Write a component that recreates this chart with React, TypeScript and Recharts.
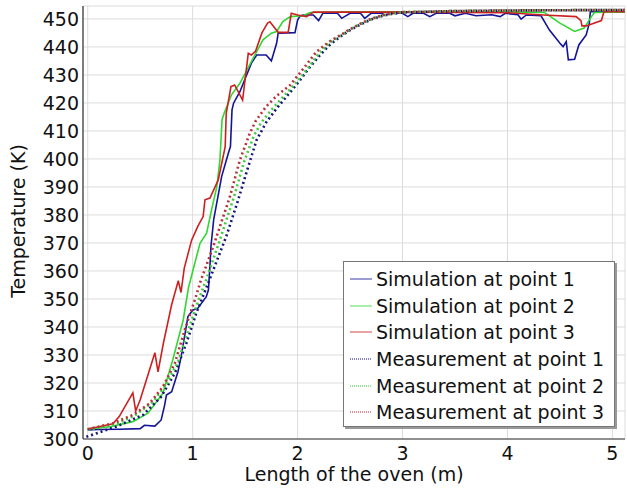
import React from "react"
import { LineChart, Line, XAxis, YAxis, CartesianGrid, Label } from "recharts"

// [length (m), temperature (K)]
const sim1 = [
  [0, 303.2], [0.1, 303.4], [0.3, 303.5], [0.5, 303.7], [0.54, 304.9], [0.64, 304.6],
  [0.7, 306.8], [0.733, 312.1], [0.75, 315.7], [0.8, 316.9], [0.86, 324], [0.89, 329.4],
  [0.955, 343.7], [1.0, 346], [1.05, 346.7], [1.13, 350.8], [1.15, 353.2], [1.165, 362],
  [1.175, 369], [1.2, 378.2], [1.276, 393.7], [1.34, 402], [1.36, 404.4], [1.375, 417.5],
  [1.39, 419.9], [1.45, 424], [1.56, 434.2], [1.61, 437.1], [1.7, 437.1], [1.75, 435],
  [1.8, 441.3], [1.815, 444.9], [1.975, 445.1], [2.0, 449.6], [2.02, 450.8], [2.05, 451.4],
  [2.15, 451.4], [2.2, 449.4], [2.24, 452], [2.38, 452], [2.42, 450.2], [2.5, 452],
  [2.6, 452], [2.64, 450.2], [2.7, 452], [2.8, 452], [2.83, 451.4], [2.9, 452],
  [3.0, 452], [3.05, 450.8], [3.1, 452], [3.2, 452], [3.26, 450.8], [3.32, 452],
  [3.45, 452], [3.5, 451.1], [3.6, 452], [3.7, 451.1], [3.85, 451.5], [3.93, 450.8],
  [3.98, 452], [4.1, 451.5], [4.13, 449.9], [4.18, 451.4], [4.32, 451.1], [4.4, 446],
  [4.5, 441.3], [4.53, 440.1], [4.56, 441.9], [4.58, 435.4], [4.64, 435.6], [4.68, 440.7],
  [4.75, 444.3], [4.78, 448.5], [4.79, 452.6], [4.9, 452.6], [5.0, 452.6], [5.12, 452.6],
]

const sim2 = [
  [0, 303.6], [0.21, 304.4], [0.43, 306.2], [0.574, 309.2], [0.717, 316.3], [0.81, 328.2],
  [0.91, 342.5], [0.96, 354], [1.07, 369.9], [1.133, 373.5], [1.18, 381.8], [1.23, 390],
  [1.26, 399.6], [1.28, 414], [1.3, 416.3], [1.37, 422.9], [1.45, 427], [1.577, 436],
  [1.67, 442.5], [1.75, 444.9], [1.8, 445.5], [1.86, 449], [1.93, 450.8], [2.05, 451.1],
  [2.12, 452.3], [2.5, 452.5], [3.0, 452.5], [3.5, 452.4], [4.0, 452.5], [4.35, 452.3],
  [4.4, 451.1], [4.5, 448.5], [4.64, 445.5], [4.73, 446.7], [4.8, 450.8], [4.83, 452.3],
  [5.12, 452.5],
]

const sim3 = [
  [0, 303.6], [0.24, 305.4], [0.3, 308], [0.43, 316.5], [0.457, 310], [0.5, 314],
  [0.64, 330.8], [0.67, 324], [0.72, 334], [0.8, 348], [0.863, 356.5], [0.889, 352.3],
  [0.92, 361], [0.99, 371], [1.05, 376], [1.1, 379.4], [1.117, 385.4], [1.165, 386],
  [1.244, 392.5], [1.31, 404.4], [1.32, 416.3], [1.365, 425.8], [1.4, 426.4], [1.476, 421],
  [1.53, 437.7], [1.56, 437.1], [1.6, 438.5], [1.66, 445], [1.714, 448.5], [1.736, 449],
  [1.815, 445.2], [1.91, 445.2], [1.94, 452], [2.0, 451.4], [2.086, 450.8], [2.15, 452.4],
  [3.0, 452.4], [4.0, 452.2], [4.34, 451.4], [4.655, 450.8], [4.7, 449.4], [4.71, 447.5],
  [4.75, 447.5], [4.895, 449.4], [4.92, 452.6], [5.12, 452.6],
]

const meas1 = [
  [-0.013, 300.8], [0.27, 304.4], [0.527, 308.6], [0.7, 315.1], [0.83, 323.5], [0.94, 334.2],
  [1.034, 344.9], [1.16, 356.8], [1.32, 372.3], [1.434, 385.4], [1.53, 397.3], [1.61, 406.8],
  [1.7, 413], [1.8, 418], [1.9, 422.5], [2.0, 427], [2.1, 432], [2.2, 436.5],
  [2.3, 440.5], [2.4, 443.5], [2.5, 446], [2.6, 448], [2.7, 449.8], [2.8, 451],
  [2.9, 451.8], [3.0, 452.3], [3.5, 452.8], [4.0, 453], [5.12, 453.2],
]

const meas2 = [
  [0, 303.3], [0.25, 305], [0.45, 308.4], [0.62, 313.2], [0.75, 319.5], [0.86, 327.5],
  [0.95, 338], [1.05, 349], [1.13, 357], [1.25, 370], [1.39, 386], [1.49, 399],
  [1.58, 408], [1.65, 412.8], [1.75, 417.5], [1.87, 422.5], [1.98, 427], [2.1, 432.5],
  [2.2, 437.5], [2.3, 441.3], [2.4, 443.8], [2.5, 446.2], [2.6, 448.2], [2.7, 449.9],
  [2.8, 451.1], [2.9, 451.9], [3.0, 452.4], [3.5, 452.8], [4.0, 453], [5.12, 453.2],
]

const meas3 = [
  [0, 303.5], [0.24, 305.6], [0.43, 308.6], [0.59, 312.7], [0.717, 318.7], [0.83, 327],
  [0.924, 338.9], [1.02, 349.6], [1.08, 356.8], [1.196, 368.7], [1.355, 386.5], [1.45, 399.6],
  [1.545, 409.2], [1.6, 413.5], [1.7, 418.7], [1.8, 422.5], [1.93, 426.4], [2.05, 432],
  [2.18, 438.3], [2.3, 441.8], [2.4, 444], [2.5, 446.3], [2.6, 448.3], [2.7, 450],
  [2.8, 451.2], [2.9, 452], [3.0, 452.4], [3.5, 452.8], [4.0, 453], [5.12, 453.2],
]

const xTicks = [0, 1, 2, 3, 4, 5]
const yTicks = [300, 310, 320, 330, 340, 350, 360, 370, 380, 390, 400, 410, 420, 430, 440, 450]

const series = [
  { name: "Simulation at point 1", points: sim1, color: "#14149a", dash: undefined, width: 1.6 },
  { name: "Simulation at point 2", points: sim2, color: "#33d633", dash: undefined, width: 1.6 },
  { name: "Simulation at point 3", points: sim3, color: "#cc2020", dash: undefined, width: 1.6 },
  { name: "Measurement at point 1", points: meas1, color: "#16167a", dash: "2 3", width: 2.6 },
  { name: "Measurement at point 2", points: meas2, color: "#3fcc3f", dash: "2 3", width: 2.6 },
  { name: "Measurement at point 3", points: meas3, color: "#b8303c", dash: "2 3", width: 2.6 },
]

const FONT = "'DejaVu Sans', sans-serif"
const tickStyle = { fill: "#111", fontSize: 19, fontFamily: FONT }

function ChartLegend() {
  return (
    <div
      style={{
        position: "absolute",
        left: 343,
        top: 261,
        width: 272,
        height: 166,
        background: "#fff",
        border: "1px solid #777",
        boxShadow: "2px 2px 0 #999",
        padding: "4px 0 0 6px",
        boxSizing: "border-box",
        fontFamily: FONT,
        fontSize: 19,
        color: "#111",
      }}
    >
      {series.map((s) => (
        <div key={s.name} style={{ display: "flex", alignItems: "center", height: 26.6, whiteSpace: "nowrap" }}>
          <svg width={22} height={6} style={{ marginRight: 4 }}>
            <line
              x1={0}
              y1={3}
              x2={22}
              y2={3}
              stroke={s.color}
              strokeOpacity={0.7}
              strokeWidth={s.dash ? 1.5 : 1.2}
              strokeDasharray={s.dash ? "1 1" : undefined}
            />
          </svg>
          <span>{s.name}</span>
        </div>
      ))}
    </div>
  )
}

export default function App() {
  return (
    <div style={{ position: "absolute", left: 0, top: 0, width: 627, height: 488, background: "#fff" }}>
      <LineChart width={627} height={488} margin={{ top: 6, right: 2, bottom: 0, left: 0 }}>
        <CartesianGrid stroke="#dcdcdc" strokeWidth={1} />
        <XAxis
          type="number"
          dataKey="x"
          domain={[-0.045, 5.12]}
          ticks={xTicks}
          allowDataOverflow
          height={49}
          tickLine={false}
          tickSize={4}
          tickMargin={4}
          tick={tickStyle}
          axisLine={{ stroke: "#333", strokeWidth: 1.2 }}
        >
          <Label value="Length of the oven (m)" position="insideBottom" offset={7} style={{ ...tickStyle, textAnchor: "middle" }} />
        </XAxis>
        <XAxis
          xAxisId="top"
          orientation="top"
          type="number"
          domain={[-0.045, 5.12]}
          ticks={xTicks}
          allowDataOverflow
          height={0}
          mirror
          tickSize={5}
          tickFormatter={() => ""}
          axisLine={{ stroke: "#555" }}
          tickLine={{ stroke: "#555" }}
        />
        <YAxis
          type="number"
          domain={[300, 454.6]}
          ticks={yTicks}
          allowDataOverflow
          width={83}
          tickLine={false}
          tickSize={0}
          tickMargin={4}
          tick={tickStyle}
          axisLine={{ stroke: "#333", strokeWidth: 1.2 }}
        >
          <Label
            content={() => (
              <text
                x={18}
                y={221}
                transform="rotate(-90 18 221)"
                textAnchor="middle"
                dominantBaseline="central"
                style={tickStyle}
              >
                Temperature (K)
              </text>
            )}
          />
        </YAxis>
        <YAxis
          yAxisId="right"
          orientation="right"
          type="number"
          domain={[300, 454.6]}
          ticks={yTicks}
          allowDataOverflow
          width={0}
          mirror
          tickSize={5}
          tickFormatter={() => ""}
          axisLine={{ stroke: "#555" }}
          tickLine={{ stroke: "#555" }}
        />
        {series.map((s) => (
          <Line
            key={s.name}
            data={s.points.map(([x, t]) => ({ x, t }))}
            dataKey="t"
            type="linear"
            stroke={s.color}
            strokeWidth={s.width}
            strokeDasharray={s.dash}
            dot={false}
            activeDot={false}
            isAnimationActive={false}
          />
        ))}
      </LineChart>
      <ChartLegend />
    </div>
  )
}
